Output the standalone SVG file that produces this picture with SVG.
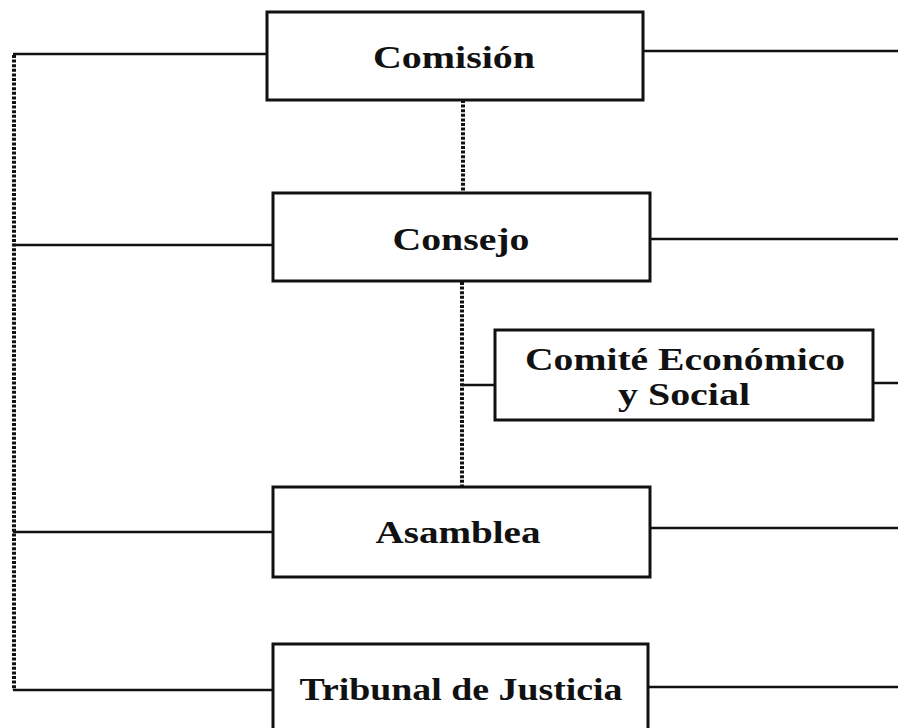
<svg xmlns="http://www.w3.org/2000/svg" width="898" height="728" viewBox="0 0 898 728">
<style>
.box{fill:#fff;stroke:#111;stroke-width:3}
.ln{fill:none;stroke:#111;stroke-width:2.5}
.dot{fill:none;stroke:#111;stroke-width:4;stroke-dasharray:3 1.6}
.t{font-family:"Liberation Serif","Times New Roman",serif;font-weight:bold;font-size:32px;fill:#111;text-anchor:middle}
</style>
<rect width="898" height="728" fill="#fff"/>
<g id="connectors">
<path class="dot" d="M14,55 V690"/>
<path class="dot" d="M463,100 V193"/>
<path class="dot" d="M462,282 V487"/>
<path class="ln" d="M13,54 H267"/>
<path class="ln" d="M643,51 H898"/>
<path class="ln" d="M13,245 H273"/>
<path class="ln" d="M650,239 H898"/>
<path class="ln" d="M462,385 H495"/>
<path class="ln" d="M873,383 H898"/>
<path class="ln" d="M13,532 H273"/>
<path class="ln" d="M650,528 H898"/>
<path class="ln" d="M13,690 H273"/>
<path class="ln" d="M648,687 H898"/>
</g>
<g id="comision">
<rect class="box" x="267" y="12" width="376" height="88"/>
<text class="t" x="454" y="68" textLength="162" lengthAdjust="spacingAndGlyphs">Comisión</text>
</g>
<g id="consejo">
<rect class="box" x="273" y="193" width="377" height="88"/>
<text class="t" x="461" y="250" textLength="137" lengthAdjust="spacingAndGlyphs">Consejo</text>
</g>
<g id="comite">
<rect class="box" x="495" y="330" width="378" height="90"/>
<text class="t" x="685" y="370" textLength="320" lengthAdjust="spacingAndGlyphs">Comité Económico</text>
<text class="t" x="684" y="405" textLength="132" lengthAdjust="spacingAndGlyphs">y Social</text>
</g>
<g id="asamblea">
<rect class="box" x="273" y="487" width="377" height="90"/>
<text class="t" x="458" y="543" textLength="165" lengthAdjust="spacingAndGlyphs">Asamblea</text>
</g>
<g id="tribunal">
<rect class="box" x="273" y="644" width="375" height="100"/>
<text class="t" x="461" y="700" textLength="323" lengthAdjust="spacingAndGlyphs">Tribunal de Justicia</text>
</g>
</svg>
